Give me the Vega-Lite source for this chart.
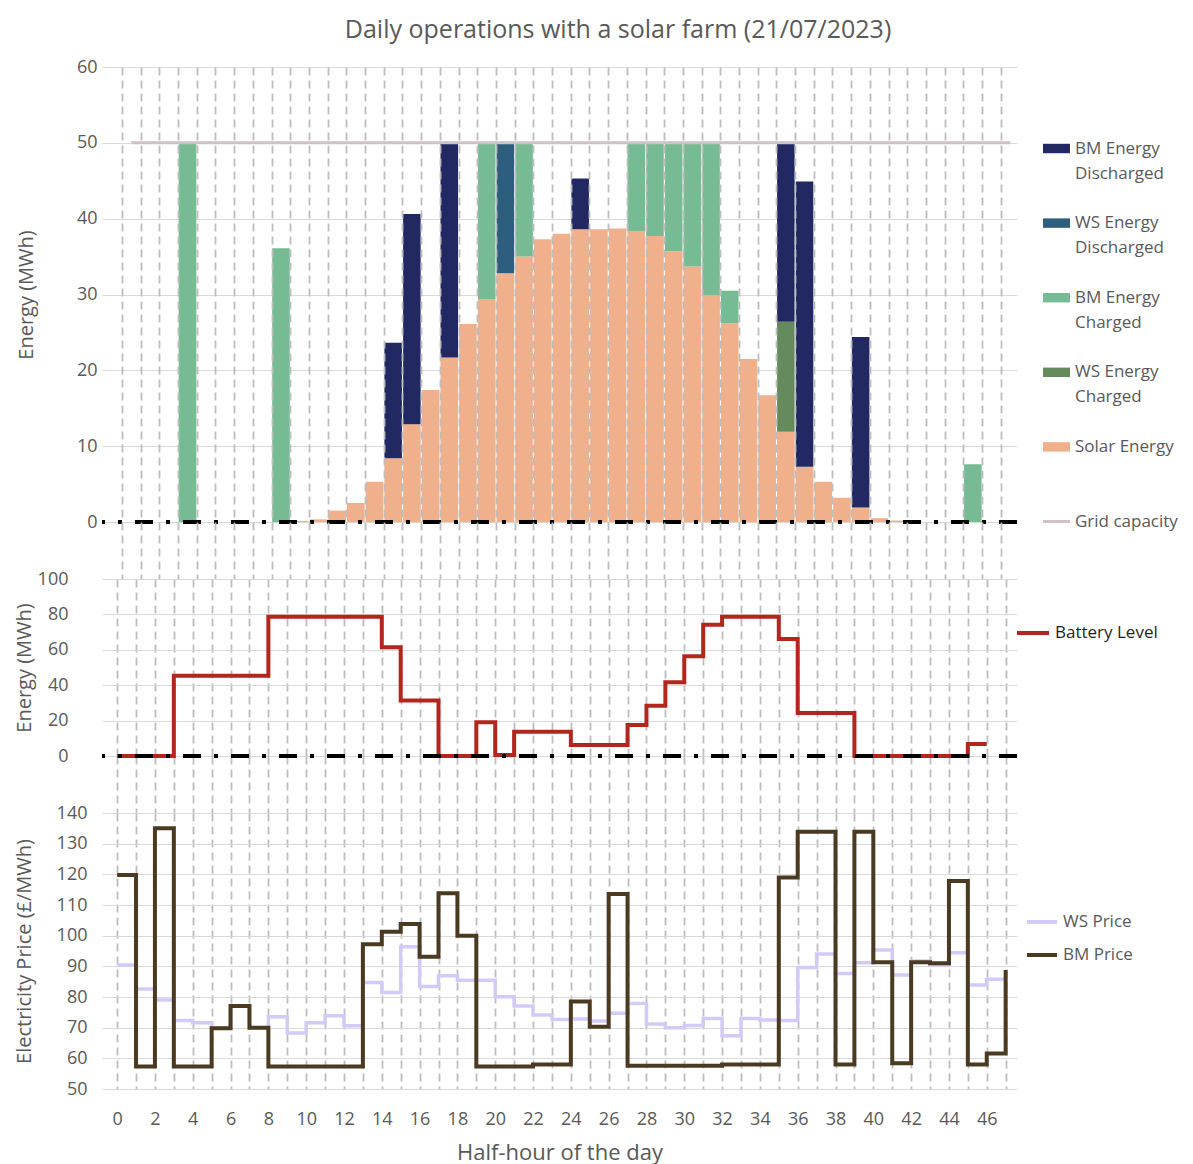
{
  "$schema": "https://vega.github.io/schema/vega-lite/v6.json",
  "background": "white",
  "padding": {"left": 14, "top": 18, "right": 5, "bottom": 5},
  "title": {"text": "Daily operations with a solar farm (21/07/2023)", "fontSize": 25, "font": "Open Sans", "fontWeight": "normal", "color": "#595959", "anchor": "middle", "offset": 15, "dx": 22},
  "config": {
    "font": "Open Sans",
    "view": {"stroke": null},
    "axis": {"labelColor": "#595959", "titleColor": "#595959", "labelFont": "Open Sans", "titleFont": "Open Sans", "titleFontWeight": "normal", "labelFontSize": 18, "titleFontSize": 20, "labelOverlap": false, "labelBound": false},
    "legend": {"labelFont": "Open Sans", "labelFontSize": 17, "labelColor": "#595959"}
  },
  "datasets": {
    "energy": [
      {"t": 3, "series": "BM Energy Charged", "mwh": 50},
      {"t": 8, "series": "BM Energy Charged", "mwh": 36.1},
      {"t": 9, "series": "Solar Energy", "mwh": 0.15},
      {"t": 10, "series": "Solar Energy", "mwh": 0.35},
      {"t": 11, "series": "Solar Energy", "mwh": 1.5},
      {"t": 12, "series": "Solar Energy", "mwh": 2.5},
      {"t": 13, "series": "Solar Energy", "mwh": 5.3},
      {"t": 14, "series": "Solar Energy", "mwh": 8.4},
      {"t": 14, "series": "BM Energy Discharged", "mwh": 15.25},
      {"t": 15, "series": "Solar Energy", "mwh": 12.9},
      {"t": 15, "series": "BM Energy Discharged", "mwh": 27.7},
      {"t": 16, "series": "Solar Energy", "mwh": 17.4},
      {"t": 17, "series": "Solar Energy", "mwh": 21.7},
      {"t": 17, "series": "BM Energy Discharged", "mwh": 28.3},
      {"t": 18, "series": "Solar Energy", "mwh": 26.1},
      {"t": 19, "series": "Solar Energy", "mwh": 29.4},
      {"t": 19, "series": "BM Energy Charged", "mwh": 20.6},
      {"t": 20, "series": "Solar Energy", "mwh": 32.8},
      {"t": 20, "series": "WS Energy Discharged", "mwh": 17.2},
      {"t": 21, "series": "Solar Energy", "mwh": 35.0},
      {"t": 21, "series": "BM Energy Charged", "mwh": 15.0},
      {"t": 22, "series": "Solar Energy", "mwh": 37.3},
      {"t": 23, "series": "Solar Energy", "mwh": 38.0},
      {"t": 24, "series": "Solar Energy", "mwh": 38.6},
      {"t": 24, "series": "BM Energy Discharged", "mwh": 6.7},
      {"t": 25, "series": "Solar Energy", "mwh": 38.6},
      {"t": 26, "series": "Solar Energy", "mwh": 38.7},
      {"t": 27, "series": "Solar Energy", "mwh": 38.3},
      {"t": 27, "series": "BM Energy Charged", "mwh": 11.7},
      {"t": 28, "series": "Solar Energy", "mwh": 37.7},
      {"t": 28, "series": "BM Energy Charged", "mwh": 12.3},
      {"t": 29, "series": "Solar Energy", "mwh": 35.7},
      {"t": 29, "series": "BM Energy Charged", "mwh": 14.3},
      {"t": 30, "series": "Solar Energy", "mwh": 33.7},
      {"t": 30, "series": "BM Energy Charged", "mwh": 16.3},
      {"t": 31, "series": "Solar Energy", "mwh": 29.9},
      {"t": 31, "series": "BM Energy Charged", "mwh": 20.1},
      {"t": 32, "series": "Solar Energy", "mwh": 26.2},
      {"t": 32, "series": "BM Energy Charged", "mwh": 4.3},
      {"t": 33, "series": "Solar Energy", "mwh": 21.5},
      {"t": 34, "series": "Solar Energy", "mwh": 16.7},
      {"t": 35, "series": "Solar Energy", "mwh": 11.9},
      {"t": 35, "series": "WS Energy Charged", "mwh": 14.5},
      {"t": 35, "series": "BM Energy Discharged", "mwh": 23.6},
      {"t": 36, "series": "Solar Energy", "mwh": 7.3},
      {"t": 36, "series": "BM Energy Discharged", "mwh": 37.6},
      {"t": 37, "series": "Solar Energy", "mwh": 5.3},
      {"t": 38, "series": "Solar Energy", "mwh": 3.2},
      {"t": 39, "series": "Solar Energy", "mwh": 1.9},
      {"t": 39, "series": "BM Energy Discharged", "mwh": 22.5},
      {"t": 40, "series": "Solar Energy", "mwh": 0.5},
      {"t": 41, "series": "Solar Energy", "mwh": 0.2},
      {"t": 45, "series": "BM Energy Charged", "mwh": 7.6}
    ],
    "grid": [
      {"t": 0, "capacity": 50}, {"t": 1, "capacity": 50}, {"t": 2, "capacity": 50}, {"t": 3, "capacity": 50},
      {"t": 4, "capacity": 50}, {"t": 5, "capacity": 50}, {"t": 6, "capacity": 50}, {"t": 7, "capacity": 50},
      {"t": 8, "capacity": 50}, {"t": 9, "capacity": 50}, {"t": 10, "capacity": 50}, {"t": 11, "capacity": 50},
      {"t": 12, "capacity": 50}, {"t": 13, "capacity": 50}, {"t": 14, "capacity": 50}, {"t": 15, "capacity": 50},
      {"t": 16, "capacity": 50}, {"t": 17, "capacity": 50}, {"t": 18, "capacity": 50}, {"t": 19, "capacity": 50},
      {"t": 20, "capacity": 50}, {"t": 21, "capacity": 50}, {"t": 22, "capacity": 50}, {"t": 23, "capacity": 50},
      {"t": 24, "capacity": 50}, {"t": 25, "capacity": 50}, {"t": 26, "capacity": 50}, {"t": 27, "capacity": 50},
      {"t": 28, "capacity": 50}, {"t": 29, "capacity": 50}, {"t": 30, "capacity": 50}, {"t": 31, "capacity": 50},
      {"t": 32, "capacity": 50}, {"t": 33, "capacity": 50}, {"t": 34, "capacity": 50}, {"t": 35, "capacity": 50},
      {"t": 36, "capacity": 50}, {"t": 37, "capacity": 50}, {"t": 38, "capacity": 50}, {"t": 39, "capacity": 50},
      {"t": 40, "capacity": 50}, {"t": 41, "capacity": 50}, {"t": 42, "capacity": 50}, {"t": 43, "capacity": 50},
      {"t": 44, "capacity": 50}, {"t": 45, "capacity": 50}, {"t": 46, "capacity": 50}, {"t": 47, "capacity": 50}
    ],
    "battery": [
      {"t": 0, "level": 0}, {"t": 1, "level": 0}, {"t": 2, "level": 0}, {"t": 3, "level": 45.4},
      {"t": 4, "level": 45.4}, {"t": 5, "level": 45.4}, {"t": 6, "level": 45.4}, {"t": 7, "level": 45.4},
      {"t": 8, "level": 78.7}, {"t": 9, "level": 78.7}, {"t": 10, "level": 78.7}, {"t": 11, "level": 78.7},
      {"t": 12, "level": 78.7}, {"t": 13, "level": 78.7}, {"t": 14, "level": 61.4}, {"t": 15, "level": 31.3},
      {"t": 16, "level": 31.3}, {"t": 17, "level": 0}, {"t": 18, "level": 0}, {"t": 19, "level": 19.0},
      {"t": 20, "level": 0.5}, {"t": 21, "level": 13.7}, {"t": 22, "level": 13.7}, {"t": 23, "level": 13.7},
      {"t": 24, "level": 6.2}, {"t": 25, "level": 6.2}, {"t": 26, "level": 6.2}, {"t": 27, "level": 17.5},
      {"t": 28, "level": 28.4}, {"t": 29, "level": 41.6}, {"t": 30, "level": 56.3}, {"t": 31, "level": 74.2},
      {"t": 32, "level": 78.7}, {"t": 33, "level": 78.7}, {"t": 34, "level": 78.7}, {"t": 35, "level": 66.1},
      {"t": 36, "level": 24.3}, {"t": 37, "level": 24.3}, {"t": 38, "level": 24.3}, {"t": 39, "level": 0},
      {"t": 40, "level": 0}, {"t": 41, "level": 0}, {"t": 42, "level": 0}, {"t": 43, "level": 0},
      {"t": 44, "level": 0}, {"t": 45, "level": 6.8}, {"t": 46, "level": 6.8}
    ],
    "prices": [
      {"t": 0, "ws": 90.4, "bm": 119.8}, {"t": 1, "ws": 82.6, "bm": 57.3}, {"t": 2, "ws": 79.0, "bm": 135.0},
      {"t": 3, "ws": 72.3, "bm": 57.3}, {"t": 4, "ws": 71.6, "bm": 57.3}, {"t": 5, "ws": 70.0, "bm": 69.8},
      {"t": 6, "ws": 77.0, "bm": 77.1}, {"t": 7, "ws": 70.0, "bm": 70.0}, {"t": 8, "ws": 73.6, "bm": 57.3},
      {"t": 9, "ws": 68.3, "bm": 57.3}, {"t": 10, "ws": 71.6, "bm": 57.3}, {"t": 11, "ws": 73.9, "bm": 57.3},
      {"t": 12, "ws": 70.6, "bm": 57.3}, {"t": 13, "ws": 84.7, "bm": 97.2}, {"t": 14, "ws": 81.5, "bm": 101.3},
      {"t": 15, "ws": 96.4, "bm": 103.8}, {"t": 16, "ws": 83.4, "bm": 93.1}, {"t": 17, "ws": 86.9, "bm": 113.8},
      {"t": 18, "ws": 85.5, "bm": 100.0}, {"t": 19, "ws": 85.5, "bm": 57.3}, {"t": 20, "ws": 80.1, "bm": 57.3},
      {"t": 21, "ws": 77.1, "bm": 57.3}, {"t": 22, "ws": 74.1, "bm": 58.0}, {"t": 23, "ws": 72.7, "bm": 58.0},
      {"t": 24, "ws": 72.8, "bm": 78.5}, {"t": 25, "ws": 72.2, "bm": 70.3}, {"t": 26, "ws": 74.7, "bm": 113.6},
      {"t": 27, "ws": 77.9, "bm": 57.6}, {"t": 28, "ws": 71.2, "bm": 57.6}, {"t": 29, "ws": 70.0, "bm": 57.6},
      {"t": 30, "ws": 70.7, "bm": 57.6}, {"t": 31, "ws": 73.0, "bm": 57.6}, {"t": 32, "ws": 67.4, "bm": 58.0},
      {"t": 33, "ws": 73.0, "bm": 58.0}, {"t": 34, "ws": 72.5, "bm": 58.0}, {"t": 35, "ws": 72.3, "bm": 119.0},
      {"t": 36, "ws": 89.6, "bm": 133.9}, {"t": 37, "ws": 94.0, "bm": 133.9}, {"t": 38, "ws": 87.7, "bm": 58.0},
      {"t": 39, "ws": 91.2, "bm": 133.9}, {"t": 40, "ws": 95.3, "bm": 91.3}, {"t": 41, "ws": 87.2, "bm": 58.4},
      {"t": 42, "ws": 91.7, "bm": 91.3}, {"t": 43, "ws": 90.4, "bm": 91.0}, {"t": 44, "ws": 94.4, "bm": 117.8},
      {"t": 45, "ws": 83.9, "bm": 58.0}, {"t": 46, "ws": 85.8, "bm": 61.6}, {"t": 47, "ws": 85.8, "bm": 88.8}
    ]
  },
  "spacing": 57,
  "bounds": "flush",
  "resolve": {"scale": {"color": "independent"}, "legend": {"color": "independent"}},
  "vconcat": [
    {
      "width": 915,
      "height": 455,
      "layer": [
        {
          "data": {"name": "energy"},
          "transform": [{"window": [{"op": "row_number", "as": "stack_rank"}]}],
          "mark": {"type": "bar", "width": 17.6, "xOffset": 9.45},
          "encoding": {
            "x": {"field": "t", "type": "quantitative",
                  "scale": {"domain": [-0.8, 47.6], "nice": false, "zero": false},
                  "axis": {"title": null, "labels": false, "ticks": true, "tickSize": 57, "tickColor": "#bdbdbd", "tickDash": [8, 5], "tickWidth": 1.8, "domain": false, "zindex": 1, "labelOverlap": false,
                           "values": [0,1,2,3,4,5,6,7,8,9,10,11,12,13,14,15,16,17,18,19,20,21,22,23,24,25,26,27,28,29,30,31,32,33,34,35,36,37,38,39,40,41,42,43,44,45,46,47],
                           "grid": true, "gridColor": "#bdbdbd", "gridDash": [8, 5], "gridWidth": 1.8}},
            "y": {"field": "mwh", "type": "quantitative", "stack": "zero",
                  "scale": {"domain": [0, 60], "nice": false},
                  "axis": {"title": "Energy (MWh)", "values": [0,10,20,30,40,50,60], "grid": true, "gridColor": "#d9d9d9", "gridWidth": 1, "labelOverlap": false,
                           "domain": false, "ticks": false, "labelPadding": 5, "titlePadding": 40}},
            "color": {"field": "series", "type": "nominal",
                      "scale": {"domain": ["BM Energy Discharged", "WS Energy Discharged", "BM Energy Charged", "WS Energy Charged", "Solar Energy", "Grid capacity"],
                                "range": ["#222862", "#2E5E7E", "#77BB94", "#658A5C", "#F0B08C", "#D0C1C5"]},
                      "legend": {"title": null, "orient": "none", "legendX": 941, "legendY": 68,
                                 "symbolType": "M-1,-0.35H1V0.35H-1Z", "symbolSize": 729, "symbolStrokeWidth": 0,
                                 "labelOffset": 5, "rowPadding": 27.6,
                                 "labelExpr": "datum.label == 'Grid capacity' ? datum.label : datum.label == 'Solar Energy' ? [datum.label, ''] : [slice(datum.label, 0, 9), slice(datum.label, 10)]",
                                 "encode": {"labels": {"update": {"lineHeight": {"value": 25}}},
                                            "symbols": {"update": {"shape": {"signal": "datum.value === 'Grid capacity' ? 'M-1,-0.11H1V0.11H-1Z' : 'M-1,-0.35H1V0.35H-1Z'"}}}}}},
            "order": {"field": "stack_rank", "type": "quantitative"}
          }
        },
        {
          "data": {"name": "grid"},
          "mark": {"type": "line", "strokeWidth": 3, "xOffset": 9.45},
          "encoding": {
            "x": {"field": "t", "type": "quantitative",
                  "axis": {"title": null, "labels": false, "ticks": true, "tickSize": 57, "tickColor": "#bdbdbd", "tickDash": [8, 5], "tickWidth": 1.8, "domain": false, "zindex": 1, "labelOverlap": false,
                           "values": [0,1,2,3,4,5,6,7,8,9,10,11,12,13,14,15,16,17,18,19,20,21,22,23,24,25,26,27,28,29,30,31,32,33,34,35,36,37,38,39,40,41,42,43,44,45,46,47],
                           "grid": true, "gridColor": "#bdbdbd", "gridDash": [8, 5], "gridWidth": 1.8}},
            "y": {"field": "capacity", "type": "quantitative"},
            "color": {"datum": "Grid capacity"}
          }
        },
        {
          "data": {"values": [{}]},
          "mark": {"type": "rule", "color": "black", "strokeWidth": 4, "strokeDash": [18, 13, 4, 13]},
          "encoding": {"y": {"datum": 0}}
        }
      ]
    },
    {
      "width": 915,
      "height": 177,
      "layer": [
        {
          "data": {"name": "battery"},
          "mark": {"type": "line", "interpolate": "step-after", "strokeWidth": 4},
          "encoding": {
            "x": {"field": "t", "type": "quantitative",
                  "scale": {"domain": [-0.8, 47.6], "nice": false, "zero": false},
                  "axis": {"title": null, "labels": false, "ticks": true, "tickSize": 57, "tickColor": "#bdbdbd", "tickDash": [8, 5], "tickWidth": 1.8, "domain": false, "zindex": 0, "labelOverlap": false,
                           "values": [0,1,2,3,4,5,6,7,8,9,10,11,12,13,14,15,16,17,18,19,20,21,22,23,24,25,26,27,28,29,30,31,32,33,34,35,36,37,38,39,40,41,42,43,44,45,46,47],
                           "grid": true, "gridColor": "#bdbdbd", "gridDash": [8, 5], "gridWidth": 1.8}},
            "y": {"field": "level", "type": "quantitative",
                  "scale": {"domain": [0, 100], "nice": false},
                  "axis": {"title": "Energy (MWh)", "values": [0,20,40,60,80,100], "grid": true, "gridColor": "#d9d9d9", "gridWidth": 1, "labelOverlap": false,
                           "domain": false, "ticks": false, "labelPadding": 34, "titlePadding": 3}},
            "color": {"datum": "Battery Level", "type": "nominal",
                      "scale": {"domain": ["Battery Level"], "range": ["#B3261E"]},
                      "legend": {"title": null, "orient": "none", "legendX": 913, "legendY": 36,
                                 "symbolType": "stroke", "symbolSize": 1024, "symbolStrokeWidth": 4, "labelOffset": 4, "labelColor": "#1f1f1f"}}
          }
        },
        {
          "data": {"values": [{}]},
          "mark": {"type": "rule", "color": "black", "strokeWidth": 4, "strokeDash": [18, 13, 4, 13]},
          "encoding": {"y": {"datum": 0, "axis": {"title": "Energy (MWh)", "values": [0,20,40,60,80,100], "grid": true, "gridColor": "#d9d9d9", "gridWidth": 1, "labelOverlap": false,
                           "domain": false, "ticks": false, "labelPadding": 34, "titlePadding": 3}}}
        }
      ]
    },
    {
      "width": 915,
      "height": 276,
      "data": {"name": "prices"},
      "encoding": {
        "x": {"field": "t", "type": "quantitative",
              "scale": {"domain": [-0.8, 47.6], "nice": false, "zero": false},
              "axis": {"title": "Half-hour of the day", "titleFontSize": 22, "titlePadding": 14, "labelPadding": 21, "ticks": false, "domain": false, "zindex": 0, "labelOverlap": false,
                       "values": [0,1,2,3,4,5,6,7,8,9,10,11,12,13,14,15,16,17,18,19,20,21,22,23,24,25,26,27,28,29,30,31,32,33,34,35,36,37,38,39,40,41,42,43,44,45,46,47],
                       "labelExpr": "datum.value % 2 === 0 ? datum.label : ''",
                       "grid": true, "gridColor": "#bdbdbd", "gridDash": [8, 5], "gridWidth": 1.8}}
      },
      "layer": [
        {
          "mark": {"type": "line", "interpolate": "step-after", "strokeWidth": 3.5},
          "encoding": {
            "y": {"field": "ws", "type": "quantitative",
                  "scale": {"domain": [50, 140], "nice": false, "zero": false},
                  "axis": {"title": "Electricity Price (£/MWh)", "values": [50,60,70,80,90,100,110,120,130,140], "grid": true, "gridColor": "#d9d9d9", "gridWidth": 1, "labelOverlap": false,
                           "domain": false, "ticks": false, "labelPadding": 15, "titlePadding": 22}},
            "color": {"datum": "WS Price", "type": "nominal",
                      "scale": {"domain": ["WS Price", "BM Price"], "range": ["#D4CAF8", "#4A3A22"]},
                      "legend": {"title": null, "orient": "none", "legendX": 923, "legendY": 92,
                                 "symbolType": "stroke", "symbolSize": 900, "symbolStrokeWidth": 4, "labelOffset": 4, "rowPadding": 8}}
          }
        },
        {
          "mark": {"type": "line", "interpolate": "step-after", "strokeWidth": 4},
          "encoding": {
            "y": {"field": "bm", "type": "quantitative",
                  "axis": {"title": "Electricity Price (£/MWh)", "values": [50,60,70,80,90,100,110,120,130,140], "grid": true, "gridColor": "#d9d9d9", "gridWidth": 1, "labelOverlap": false,
                           "domain": false, "ticks": false, "labelPadding": 15, "titlePadding": 22}},
            "color": {"datum": "BM Price", "type": "nominal"}
          }
        }
      ]
    }
  ]
}
